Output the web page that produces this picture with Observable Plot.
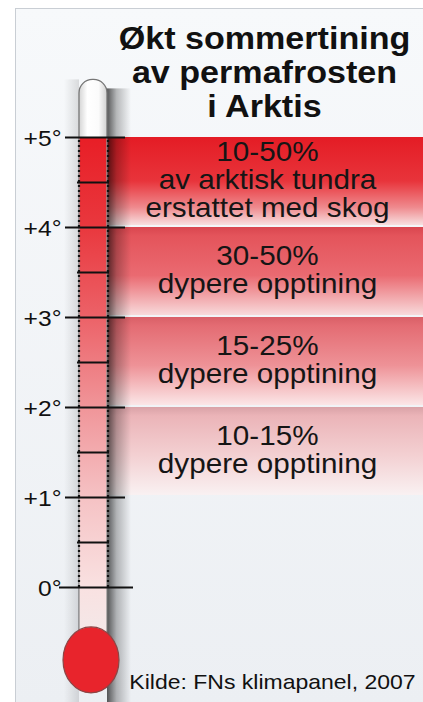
<!DOCTYPE html>
<html><head><meta charset="utf-8">
<script src="https://cdn.jsdelivr.net/npm/d3@7"></script>
<script src="https://cdn.jsdelivr.net/npm/@observablehq/plot@0.6"></script>
<style>
body{margin:0;background:#fff;}
#chart svg{display:block;font-family:"Liberation Sans",Arial,Helvetica,sans-serif;}
</style></head>
<body><div id="chart"></div>
<script>
// ---- data ----
const title = "Økt sommertining\nav permafrosten\ni Arktis";
const caption = "Kilde: FNs klimapanel, 2007";
const tickValues = [0, 1, 2, 3, 4, 5];
const tickLabels = ["0°", "+1°", "+2°", "+3°", "+4°", "+5°"];
const halfTicks = [0.5, 1.5, 2.5, 3.5, 4.5];
const bandLow = [4, 3, 2, 1];
const bandHigh = [5, 4, 3, 2];
const bandText = [
  "10-50%\nav arktisk tundra\nerstattet med skog",
  "30-50%\ndypere opptining",
  "15-25%\ndypere opptining",
  "10-15%\ndypere opptining"
];
const bands = bandLow.map((lo, i) => ({lo, hi: bandHigh[i], text: bandText[i], id: "band" + i}));

// ---- styles ----
const bandStops = [
  [[0, "#e41c25"], [0.5, "#e8343b"], [0.8, "#ef8a8e"], [1, "#f8dfe0"]],
  [[0, "#d9464f"], [0.1, "#e4545b"], [0.55, "#ea6a71"], [1, "#f8dadb"]],
  [[0, "#d95f67"], [0.1, "#e46c73"], [0.55, "#ee9297"], [1, "#fbe6e7"]],
  [[0, "#d9a2a7"], [0.1, "#ebb4b8"], [0.55, "#f3d0d2"], [1, "#f9f1f2"]]
];
const tubeRedStops = [[0, "#e81e26"], [0.172, "#e9383e"], [0.345, "#ec6268"], [0.517, "#f09599"], [0.69, "#f5c2c4"], [0.862, "#f9e1e1"], [1, "#f1ecec"]];
const stretch = {"31": 1.1, "20": 1.15, "22": 1.12, "28": 1.06};
const W = 423, H = 702;
const yTopDeg = 587 / 90, yBotDeg = -115 / 90;
const tube = {x1: 79, x2: 107, top: 5.64, bottom: -0.8};
const bulb = {x: 91, y: -0.81, rx: 28, ry: 33};

function defs() {
  const g = d3.create("svg:g");
  const d = g.append("defs");
  const lin = (id, stops, horiz) => {
    const gr = d.append("linearGradient").attr("id", id)
      .attr("x1", 0).attr("y1", 0).attr("x2", horiz ? 1 : 0).attr("y2", horiz ? 0 : 1);
    for (const [o, c, op] of stops) gr.append("stop").attr("offset", o).attr("stop-color", c).attr("stop-opacity", op ?? 1);
  };
  bandStops.forEach((s, i) => lin("band" + i, s, false));
  lin("tubeRed", tubeRedStops, false);
  lin("tubeWhite", [[0, "#d4d4d4"], [0.3, "#ffffff"], [0.7, "#fbfbfb"], [1, "#d0d0d0"]], true);
  lin("shadowR", [[0, "#000", 0.65], [0.4, "#000", 0.26], [1, "#000", 0]], true);
  lin("shadowL", [[0, "#000", 0], [1, "#000", 0.12]], true);
  lin("bg", [[0, "#f7f9fb"], [1, "#eceff3"]], false);
  return g.node();
}

function bulbMark(index, scales) {
  const x = scales.x, y = scales.y;
  const g = d3.create("svg:g");
  g.append("ellipse")
    .attr("cx", x(bulb.x)).attr("cy", y(bulb.y))
    .attr("rx", bulb.rx).attr("ry", bulb.ry)
    .attr("fill", "#e8242c").attr("stroke", "#8d4545").attr("stroke-width", 1.2);
  return g.node();
}

const plot = Plot.plot({
  width: W, height: H,
  margin: 0,
  x: {domain: [0, W], range: [0, W], axis: null},
  y: {domain: [yBotDeg, yTopDeg], axis: null},
  color: {type: "identity"},
  style: {background: "transparent", fontFamily: "Liberation Sans, Arial, sans-serif"},
  marks: [
    defs,
    Plot.frame({fill: "url(#bg)", stroke: "#c9ced4", insetLeft: 15, insetTop: 8, insetRight: -2, insetBottom: -2}),
    Plot.rect([0], {x1: 64, x2: tube.x1, y1: yBotDeg, y2: tube.top, fill: "url(#shadowL)"}),
    Plot.rect(bands, {x1: tube.x2 - 1, x2: W, y1: "lo", y2: "hi", fill: d => `url(#${d.id})`, insetBottom: 2}),
    Plot.rect([0], {x1: tube.x2, x2: tube.x2 + 24, y1: yBotDeg, y2: tube.top - 0.1, fill: "url(#shadowR)"}),
    Plot.rect([0], {x1: tube.x1, x2: tube.x2, y1: tube.bottom, y2: tube.top, rx: 13.5, fill: "url(#tubeWhite)", stroke: "#767676", strokeWidth: 1.3}),
    Plot.rect([0], {x1: tube.x1 + 0.7, x2: tube.x2 - 0.7, y1: tube.bottom, y2: 5, fill: "url(#tubeRed)"}),
    Plot.ruleX([tube.x1 - 0.5, tube.x2 + 0.5], {x: d => d, y1: 0, y2: 5, stroke: "#111", strokeWidth: 2.2, strokeDasharray: "2,3"}),
    Plot.ruleY(halfTicks, {x1: 77, x2: 109, stroke: "#111", strokeWidth: 2}),
    Plot.ruleY(tickValues.filter(v => v > 0), {x1: 65, x2: 125, stroke: "#111", strokeWidth: 2}),
    Plot.ruleY(tickValues.filter(v => v === 0), {x1: 59, x2: 133, stroke: "#111", strokeWidth: 2}),
    Plot.text(tickValues, {x: 61, y: d => d, text: (d, i) => tickLabels[i], textAnchor: "end", fontSize: 22, fill: "#111", dy: 1}),
    bulbMark,
    Plot.text(bands, {x: 267, y: d => (d.lo + d.hi) / 2, text: "text", fontSize: 28, lineHeight: 1, fill: "#151515", dy: -2}),
    Plot.text([title], {frameAnchor: "top", x: 264, dy: 24, lineAnchor: "top", text: d => d, fontSize: 31, fontWeight: "bold", lineHeight: 1.1, fill: "#111"}),
    Plot.text([caption], {frameAnchor: "bottom", x: 272, dy: -14, text: d => d, fontSize: 20, fill: "#111"})
  ]
});
// horizontal stretch of some texts around their anchor
d3.select(plot).selectAll("g[font-size]").each(function () {
  const s = stretch[this.getAttribute("font-size")];
  if (!s) return;
  d3.select(this).selectAll(":scope > text").each(function () {
    const t = this.getAttribute("transform") || "";
    this.setAttribute("transform", t + ` scale(${s},1)`);
  });
});
document.getElementById("chart").appendChild(plot);
</script>
</body></html>
